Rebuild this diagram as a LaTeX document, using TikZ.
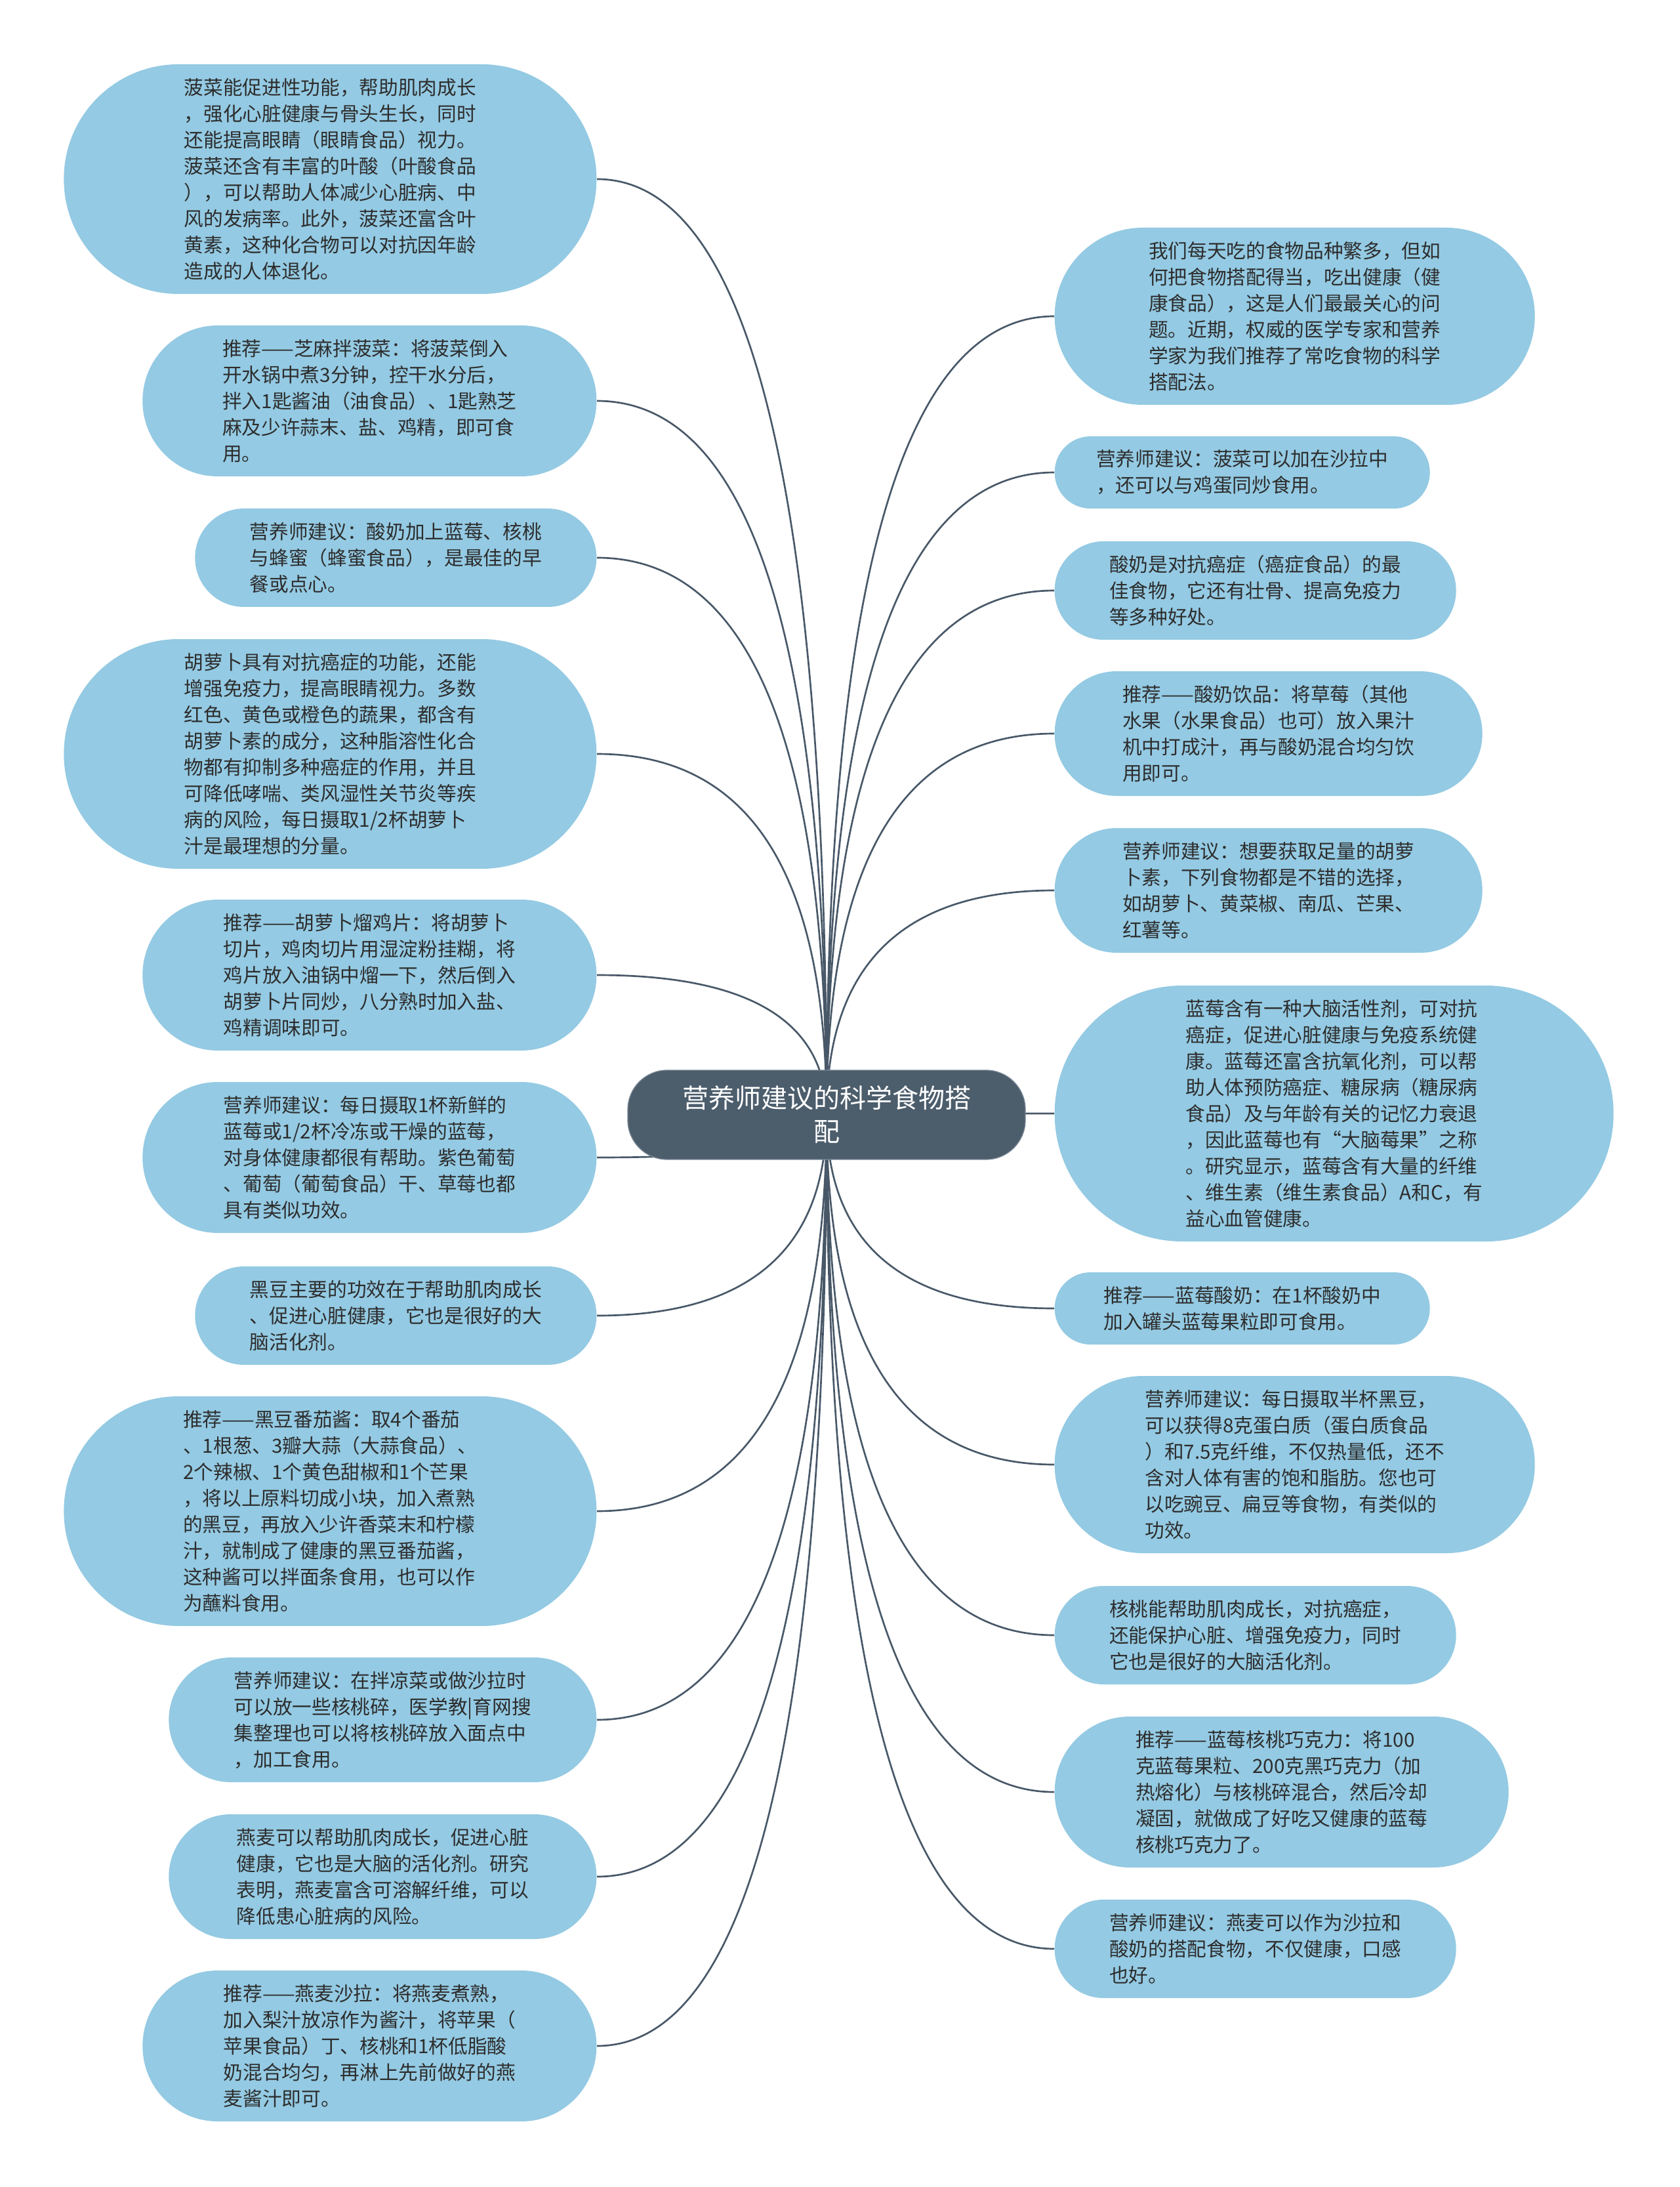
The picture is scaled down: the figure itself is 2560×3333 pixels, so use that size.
\documentclass[tikz,border=0pt]{standalone}
\usepackage{fontspec}
\newfontfamily\cjk{Noto Sans CJK SC}
\usetikzlibrary{calc,backgrounds}
\definecolor{leaffill}{RGB}{148,202,227}
\definecolor{rootfill}{RGB}{76,93,108}
\definecolor{rootedge}{RGB}{120,134,148}
\definecolor{linecol}{RGB}{72,88,104}
\definecolor{txt}{RGB}{45,45,45}
\begin{document}
\begin{tikzpicture}[x=0.3pt,y=-0.3pt,
  leaf/.style={fill=leaffill, text=txt, font=\cjk\fontsize{8.9pt}{12pt}\selectfont,
    align=left, inner sep=0pt,
    minimum height={(12*#1+9)*1pt}, minimum width={(147.6+12*#1)*1pt},
    rounded corners={(6*#1+4.4)*1pt}},
  lleaf/.style={leaf=#1, anchor=east},
  rleaf/.style={leaf=#1, anchor=west},
  rootnode/.style={fill=rootfill, draw=rootedge, line width=0.4pt, text=white,
    font=\cjk\fontsize{12pt}{15.3pt}\selectfont, align=center, inner sep=0pt,
    minimum width=181.8pt, minimum height=40.8pt, rounded corners=18pt},
  conn/.style={draw=linecol, line width=0.8pt}]
\useasboundingbox (0,0) rectangle (2560,3333);
\begin{pgfonlayer}{background}
\fill[white] (0,0) rectangle (2560,3333);
\end{pgfonlayer}

\node[rootnode] (root) at (1260,1699) {营养师建议的科学食物搭\\配};

% left column
\node[lleaf=8] (L1) at (910,273) {菠菜能促进性功能，帮助肌肉成长\\，强化心脏健康与骨头生长，同时\\还能提高眼睛（眼睛食品）视力。\\菠菜还含有丰富的叶酸（叶酸食品\\），可以帮助人体减少心脏病、中\\风的发病率。此外，菠菜还富含叶\\黄素，这种化合物可以对抗因年龄\\造成的人体退化。};
\node[lleaf=5] (L2) at (910,611) {推荐——芝麻拌菠菜：将菠菜倒入\\开水锅中煮3分钟，控干水分后，\\拌入1匙酱油（油食品）、1匙熟芝\\麻及少许蒜末、盐、鸡精，即可食\\用。};
\node[lleaf=3] (L3) at (910,850) {营养师建议：酸奶加上蓝莓、核桃\\与蜂蜜（蜂蜜食品），是最佳的早\\餐或点心。};
\node[lleaf=8] (L4) at (910,1149) {胡萝卜具有对抗癌症的功能，还能\\增强免疫力，提高眼睛视力。多数\\红色、黄色或橙色的蔬果，都含有\\胡萝卜素的成分，这种脂溶性化合\\物都有抑制多种癌症的作用，并且\\可降低哮喘、类风湿性关节炎等疾\\病的风险，每日摄取1/2杯胡萝卜\\汁是最理想的分量。};
\node[lleaf=5] (L5) at (910,1486) {推荐——胡萝卜熘鸡片：将胡萝卜\\切片，鸡肉切片用湿淀粉挂糊，将\\鸡片放入油锅中熘一下，然后倒入\\胡萝卜片同炒，八分熟时加入盐、\\鸡精调味即可。};
\node[lleaf=5] (L6) at (910,1764) {营养师建议：每日摄取1杯新鲜的\\蓝莓或1/2杯冷冻或干燥的蓝莓，\\对身体健康都很有帮助。紫色葡萄\\、葡萄（葡萄食品）干、草莓也都\\具有类似功效。};
\node[lleaf=3] (L7) at (910,2005) {黑豆主要的功效在于帮助肌肉成长\\、促进心脏健康，它也是很好的大\\脑活化剂。};
\node[lleaf=8] (L8) at (910,2303) {推荐——黑豆番茄酱：取4个番茄\\、1根葱、3瓣大蒜（大蒜食品）、\\2个辣椒、1个黄色甜椒和1个芒果\\，将以上原料切成小块，加入煮熟\\的黑豆，再放入少许香菜末和柠檬\\汁，就制成了健康的黑豆番茄酱，\\这种酱可以拌面条食用，也可以作\\为蘸料食用。};
\node[lleaf=4] (L9) at (910,2621) {营养师建议：在拌凉菜或做沙拉时\\可以放一些核桃碎，医学教|育网搜\\集整理也可以将核桃碎放入面点中\\，加工食用。};
\node[lleaf=4] (L10) at (910,2860) {燕麦可以帮助肌肉成长，促进心脏\\健康，它也是大脑的活化剂。研究\\表明，燕麦富含可溶解纤维，可以\\降低患心脏病的风险。};
\node[lleaf=5] (L11) at (910,3118) {推荐——燕麦沙拉：将燕麦煮熟，\\加入梨汁放凉作为酱汁，将苹果（\\苹果食品）丁、核桃和1杯低脂酸\\奶混合均匀，再淋上先前做好的燕\\麦酱汁即可。};

% right column
\node[rleaf=6] (R1) at (1607,482) {我们每天吃的食物品种繁多，但如\\何把食物搭配得当，吃出健康（健\\康食品），这是人们最最关心的问\\题。近期，权威的医学专家和营养\\学家为我们推荐了常吃食物的科学\\搭配法。};
\node[rleaf=2] (R2) at (1607,720) {营养师建议：菠菜可以加在沙拉中\\，还可以与鸡蛋同炒食用。};
\node[rleaf=3] (R3) at (1607,900) {酸奶是对抗癌症（癌症食品）的最\\佳食物，它还有壮骨、提高免疫力\\等多种好处。};
\node[rleaf=4] (R4) at (1607,1118) {推荐——酸奶饮品：将草莓（其他\\水果（水果食品）也可）放入果汁\\机中打成汁，再与酸奶混合均匀饮\\用即可。};
\node[rleaf=4] (R5) at (1607,1357) {营养师建议：想要获取足量的胡萝\\卜素，下列食物都是不错的选择，\\如胡萝卜、黄菜椒、南瓜、芒果、\\红薯等。};
\node[rleaf=9] (R6) at (1607,1697) {蓝莓含有一种大脑活性剂，可对抗\\癌症，促进心脏健康与免疫系统健\\康。蓝莓还富含抗氧化剂，可以帮\\助人体预防癌症、糖尿病（糖尿病\\食品）及与年龄有关的记忆力衰退\\，因此蓝莓也有“大脑莓果”之称\\。研究显示，蓝莓含有大量的纤维\\、维生素（维生素食品）A和C，有\\益心血管健康。};
\node[rleaf=2] (R7) at (1607,1994) {推荐——蓝莓酸奶：在1杯酸奶中\\加入罐头蓝莓果粒即可食用。};
\node[rleaf=6] (R8) at (1607,2232) {营养师建议：每日摄取半杯黑豆，\\可以获得8克蛋白质（蛋白质食品\\）和7.5克纤维，不仅热量低，还不\\含对人体有害的饱和脂肪。您也可\\以吃豌豆、扁豆等食物，有类似的\\功效。};
\node[rleaf=3] (R9) at (1607,2492) {核桃能帮助肌肉成长，对抗癌症，\\还能保护心脏、增强免疫力，同时\\它也是很好的大脑活化剂。};
\node[rleaf=5] (R10) at (1607,2731) {推荐——蓝莓核桃巧克力：将100\\克蓝莓果粒、200克黑巧克力（加\\热熔化）与核桃碎混合，然后冷却\\凝固，就做成了好吃又健康的蓝莓\\核桃巧克力了。};
\node[rleaf=3] (R11) at (1607,2970) {营养师建议：燕麦可以作为沙拉和\\酸奶的搭配食物，不仅健康，口感\\也好。};

\begin{pgfonlayer}{background}
\foreach \c in {L1,L2,L3,L4,L5,L6,L7,L8,L9,L10,L11} {
  \draw[conn] (root.center) .. controls ($(root.center)!2/3!(root.center |- \c.east)$)
    and ($(\c.east)!2/3!(root.center |- \c.east)$) .. (\c.east);
}
\foreach \c in {R1,R2,R3,R4,R5,R6,R7,R8,R9,R10,R11} {
  \draw[conn] (root.center) .. controls ($(root.center)!2/3!(root.center |- \c.west)$)
    and ($(\c.west)!2/3!(root.center |- \c.west)$) .. (\c.west);
}
\end{pgfonlayer}
\end{tikzpicture}
\end{document}
